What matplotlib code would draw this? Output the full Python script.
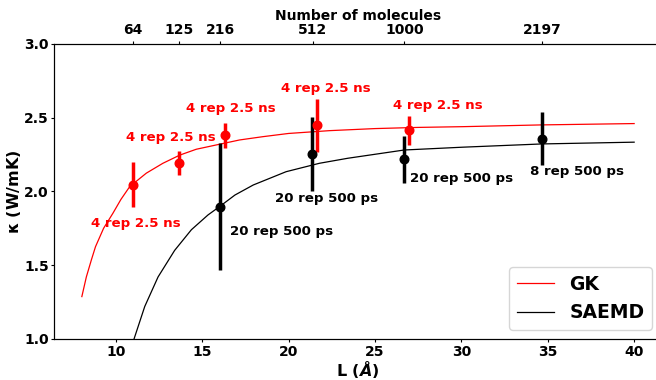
import matplotlib.pyplot as plt
import numpy as np

# fitted curves
gk_L = [8.04, 8.3, 8.59, 8.83, 9.3, 9.84, 10.3, 10.81, 11.77, 12.73, 13.7, 14.66, 16.01, 17.17, 18.5, 20.0, 22.37, 25.0, 27.5, 30.08, 34.66, 40.0]
gk_k = [1.287, 1.42, 1.535, 1.625, 1.75, 1.852, 1.945, 2.032, 2.123, 2.19, 2.245, 2.285, 2.319, 2.348, 2.370, 2.392, 2.411, 2.425, 2.433, 2.438, 2.450, 2.459]

sa_L = [11.06, 11.68, 12.45, 13.41, 14.38, 15.34, 16.05, 16.9, 17.96, 19.86, 21.79, 23.43, 26.7, 30.08, 34.66, 40.0]
sa_k = [1.00, 1.22, 1.42, 1.60, 1.74, 1.84, 1.90, 1.975, 2.043, 2.133, 2.19, 2.224, 2.28, 2.299, 2.321, 2.333]

# data points
gk_x = [11.0, 13.66, 16.34, 21.66, 26.98]
gk_y = [2.046, 2.19, 2.381, 2.447, 2.413]
gk_err = [0.15, 0.08, 0.085, 0.18, 0.10]

sa_x = [16.02, 21.35, 26.7, 34.66]
sa_y = [1.896, 2.253, 2.217, 2.357]
sa_err = [0.43, 0.25, 0.16, 0.18]

gk_lab = ['4 rep 2.5 ns'] * 5
gk_lab_pos = [(11.18, 1.779), (13.18, 2.364), (16.65, 2.558), (22.14, 2.698), (28.63, 2.579)]
sa_lab = ['20 rep 500 ps', '20 rep 500 ps', '20 rep 500 ps', '8 rep 500 ps']
sa_lab_pos = [(19.6, 1.727), (22.2, 1.953), (30.0, 2.086), (36.7, 2.131)]

n_mol = ['64', '125', '216', '512', '1000', '2197']
n_pos = [11.0, 13.66, 16.05, 21.4, 26.7, 34.66]

fig = plt.figure(figsize=(6.56, 3.8), dpi=100)
ax = fig.add_axes([0.0828, 0.108, 0.9255, 0.777])

ax.plot(gk_L, gk_k, color='red', lw=0.9, label='GK')
ax.plot(sa_L, sa_k, color='black', lw=0.9, label='SAEMD')
ax.errorbar(gk_x, gk_y, yerr=gk_err, fmt='o', color='red', ms=6.2, elinewidth=2.5, capsize=0)
ax.errorbar(sa_x, sa_y, yerr=sa_err, fmt='o', color='black', ms=6.2, elinewidth=2.5, capsize=0)

for t, (x, y) in zip(gk_lab, gk_lab_pos):
    ax.text(x, y, t, color='red', fontsize=9.6, fontweight='bold', ha='center', va='center')
for t, (x, y) in zip(sa_lab, sa_lab_pos):
    ax.text(x, y, t, color='black', fontsize=9.6, fontweight='bold', ha='center', va='center')

ax.set_xlim(6.447, 41.58)
ax.set_ylim(1.0, 3.0)
ax.set_yticks([1.0, 1.5, 2.0, 2.5, 3.0])
ax.set_xticks([10, 15, 20, 25, 30, 35, 40])
ax.tick_params(length=2, pad=2)
for lab in ax.get_xticklabels() + ax.get_yticklabels():
    lab.set_fontweight('bold')
    lab.set_fontsize(10)
ax.set_xlabel(r'L ($\mathbfit{Å}$)', fontsize=11.5, fontweight='bold', labelpad=0)
ax.set_ylabel(r'$\mathbf{\kappa}$ (W/mK)', fontsize=11.5, fontweight='bold')
ax.yaxis.set_label_coords(-0.052, 0.5)
ax.spines['right'].set_visible(False)

leg = ax.legend(loc='lower right', prop={'weight': 'bold', 'size': 13.5})

ax2 = ax.twiny()
ax2.set_xlim(ax.get_xlim())
ax2.set_xticks(n_pos)
ax2.set_xticklabels(n_mol, fontweight='bold', fontsize=10)
ax2.tick_params(length=2, pad=3)
ax2.set_xlabel('Number of molecules', fontsize=10, fontweight='bold', labelpad=2)
ax2.spines['right'].set_visible(False)

plt.savefig('out.png', dpi=100)
